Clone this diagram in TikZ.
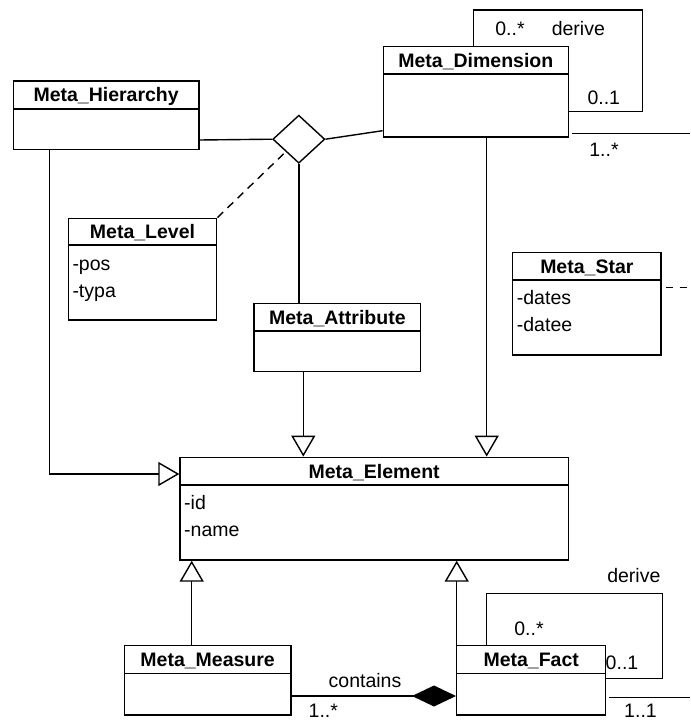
\documentclass[tikz,border=0pt]{standalone}
\usepackage{fontspec}
\setmainfont{Liberation Sans}
\usetikzlibrary{arrows.meta,shapes.geometric,fit}
\tikzset{
  cls/.style={draw, line width=1.4pt, inner sep=0pt},
  ttl/.style={font=\fontsize{19.5}{22}\selectfont\bfseries, inner sep=0pt, text height=14pt, text depth=0pt},
  att/.style={font=\fontsize{19.5}{22}\selectfont, anchor=west, inner sep=0pt, text height=14pt, text depth=0pt},
  lbl/.style={font=\fontsize{19.5}{22}\selectfont, inner sep=0pt, text height=14pt, text depth=0pt},
  conn/.style={line width=1.4pt},
  gen/.style={conn, -{Triangle[open, length=21pt, width=24pt, fill=white]}},
  comp/.style={conn, {Diamond[length=44pt, width=21pt]}-},
  dep/.style={conn, dash pattern=on 8pt off 6pt},
  assocdia/.style={draw, line width=1.4pt, shape=diamond, inner sep=0pt, minimum width=52pt, minimum height=48pt},
}
\newcommand\umlclass[7]{%
  \node[cls, fit={(#2,#3) (#4,#5)}] (#1) {};
  \draw[conn] (#2,#6) -- (#4,#6);
  \node[ttl] (#1-t) at ({(#2+#4)/2},{(#3+#6)/2}) {#7};
}
\begin{document}
\begin{tikzpicture}[x=1pt, y=-1pt]
\useasboundingbox (0,0) rectangle (690,722);

% classes
\umlclass{hier}{13.3}{81}{199}{149.3}{109}{Meta\_Hierarchy}
\umlclass{dim}{383.3}{46.7}{568.3}{137}{74}{Meta\_Dimension}
\umlclass{lev}{68.3}{218.3}{216.7}{320}{245}{Meta\_Level}
\umlclass{attr}{254}{303.3}{420.7}{371.7}{331}{Meta\_Attribute}
\umlclass{star}{512.7}{252.3}{661}{355}{280}{Meta\_Star}
\umlclass{elem}{180}{457.3}{568.3}{560}{485}{Meta\_Element}
\umlclass{meas}{124.3}{645.7}{291}{715}{673.3}{Meta\_Measure}
\umlclass{fact}{456.7}{645.7}{605.7}{715}{673.3}{Meta\_Fact}

% attributes
\node[att] (lev-a1) at (72.3,263) {-pos};
\node[att] (lev-a2) at (72.3,290) {-typa};
\node[att] (star-a1) at (516.7,297) {-dates};
\node[att] (star-a2) at (516.7,324) {-datee};
\node[att] (elem-a1) at (184,502) {-id};
\node[att] (elem-a2) at (184,529) {-name};

% n-ary association diamond
\node[assocdia] (dia) at (298.8,139.2) {};
\coordinate (hl) at (240,140);
\draw[conn] (hl -| hier.east) -- (dia.west);
\coordinate (dr) at (383.3,130.7);
\draw[conn] (dia.east) -- (dr -| dim.west);
\draw[conn] (dia.south) -- (dia.south |- attr.north);
\draw[dep] (lev.north east) -- (dia);

% Meta_Dimension self loop
\coordinate (dl1) at (473.3,10);
\coordinate (dl2) at (642.7,111.7);
\draw[conn] (dl1 |- dim.north) -- (dl1) -| (dl2) -- (dl2 -| dim.east);
\node[lbl] (dml1) at (510,28.8) {0..*};
\node[lbl] (dml2) at (578.3,28.8) {derive};
\node[lbl] (dml3) at (603.8,98) {0..1};

% Meta_Dimension outgoing line
\coordinate (dimR) at (690,133.3);
\draw[conn] ([xshift=3pt]dimR -| dim.east) -- (dimR);
\node[lbl] (dml4) at (604,149.7) {1..*};

% Meta_Star dashed line
\coordinate (starR) at (690,287.3);
\draw[conn, dash pattern=on 7pt off 7pt, dash phase=10pt] (starR -| star.east) -- (starR);

% generalizations
\coordinate (hx) at (49.3,474);
\draw[gen] (hx |- hier.south) -- (hx) -- (hx -| elem.west);
\coordinate (ax) at (303.3,400);
\draw[gen] (ax |- attr.south) -- (ax |- elem.north);
\coordinate (dx) at (486.7,300);
\draw[gen] (dx |- dim.south) -- (dx |- elem.north);
\coordinate (mx) at (191.7,600);
\draw[gen] (mx |- meas.north) -- (mx |- elem.south);
\coordinate (fx) at (456.7,600);
\draw[gen] (fx |- fact.north) -- (fx |- elem.south);

% Meta_Fact self loop
\coordinate (fl1) at (486.7,593.3);
\coordinate (fl2) at (662.3,678.3);
\draw[conn] (fl1 |- fact.north) -- (fl1) -| (fl2) -- (fl2 -| fact.east);
\node[lbl] (fml1) at (633.8,575.8) {derive};
\node[lbl] (fml2) at (529,628.8) {0..*};
\node[lbl] (fml3) at (622,662) {0..1};

% composition
\coordinate (cy) at (380,696);
\draw[comp] (cy -| fact.west) -- (cy -| meas.east);
\node[lbl] (cl) at (365,680) {contains};
\node[lbl] (cm) at (323.3,710.5) {1..*};

% Meta_Fact outgoing line
\coordinate (factR) at (690,697.3);
\draw[conn] ([xshift=2.5pt]factR -| fact.east) -- (factR);
\node[lbl] (fml4) at (640.5,710) {1..1};
\end{tikzpicture}
\end{document}
